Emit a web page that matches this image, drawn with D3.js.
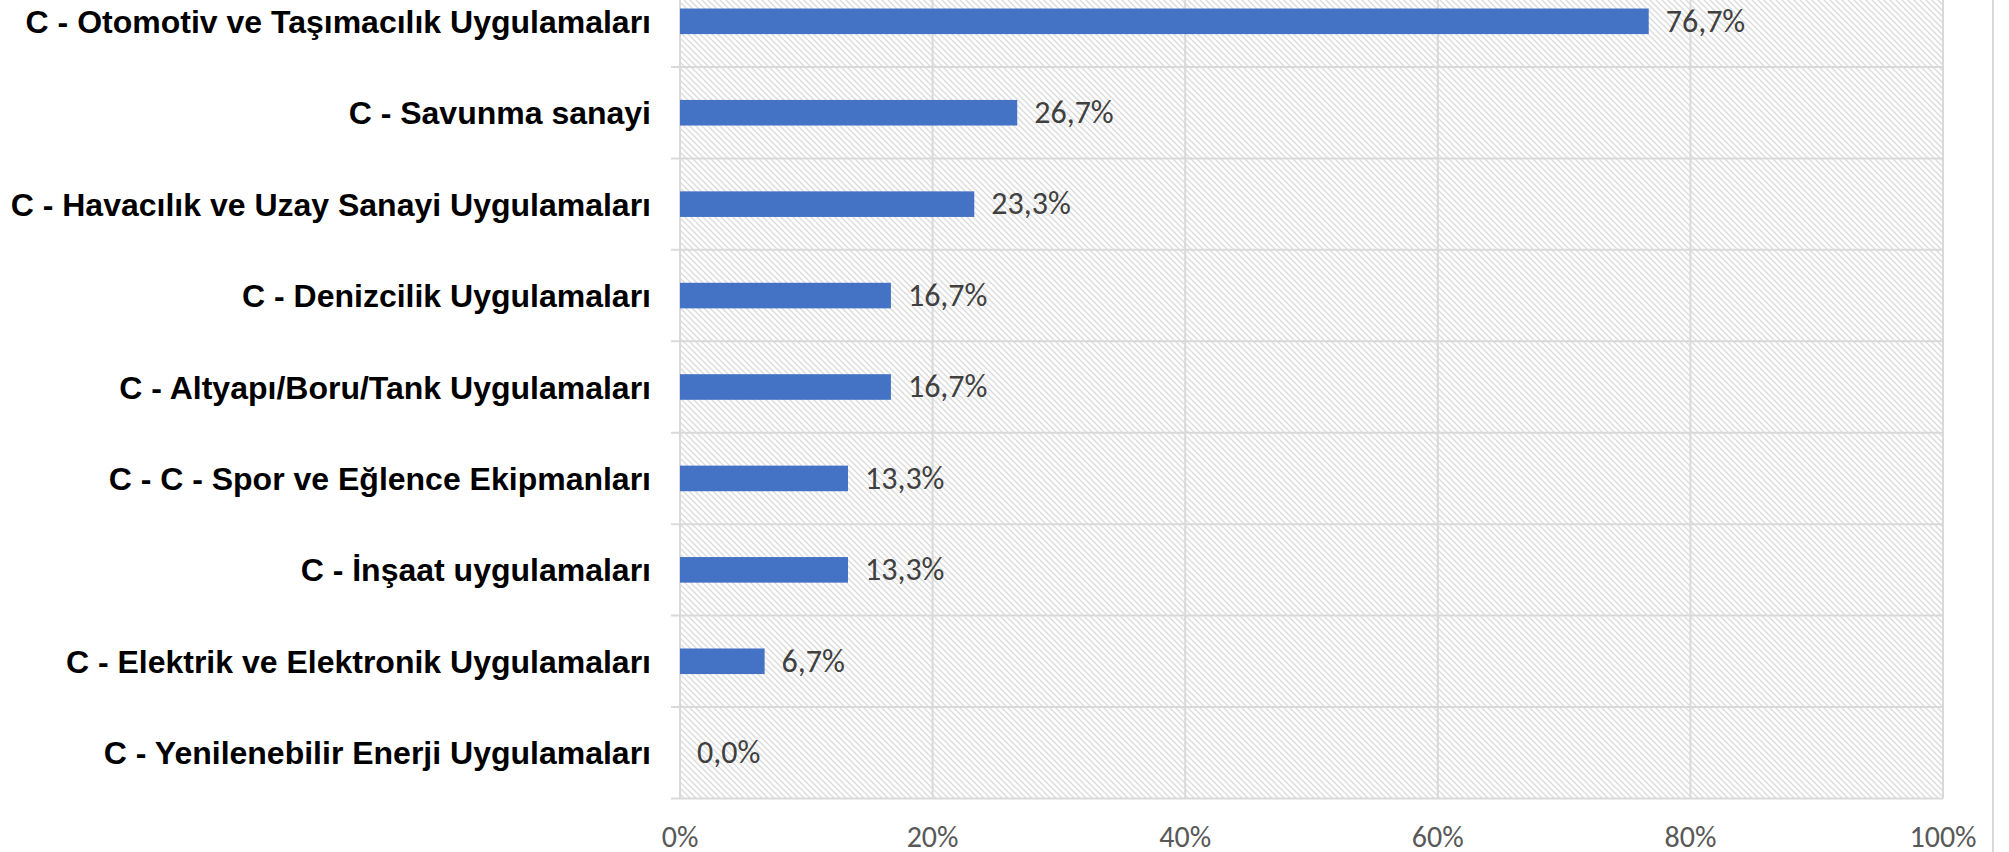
<!DOCTYPE html>
<html>
<head>
<meta charset="utf-8">
<script src="https://cdn.jsdelivr.net/npm/d3@7"></script>
<style>
  body { margin: 0; background: #fff; }
  svg { display: block; }
</style>
</head>
<body>
<div id="chart"></div>
<script>
var categories = [
  'C - Otomotiv ve Taşımacılık Uygulamaları',
  'C - Savunma sanayi',
  'C - Havacılık ve Uzay Sanayi Uygulamaları',
  'C - Denizcilik Uygulamaları',
  'C - Altyapı/Boru/Tank Uygulamaları',
  'C - C - Spor ve Eğlence Ekipmanları',
  'C - İnşaat uygulamaları',
  'C - Elektrik ve Elektronik Uygulamaları',
  'C - Yenilenebilir Enerji Uygulamaları'
];
var shares = [0.767, 0.267, 0.233, 0.167, 0.167, 0.133, 0.133, 0.067, 0.0];
var x_ticks = [0, 0.2, 0.4, 0.6, 0.8, 1.0];

var width = 2009, height = 852;
var plot_left = 680, plot_right = 1943,
    plot_top = -24.4, plot_bottom = 798.4;
var grid_color = '#d9d9d9';

var tr = d3.formatLocale({decimal: ',', thousands: '.', grouping: [3], currency: ['', '']});
var fmt_value = tr.format('.1%');
var fmt_tick = tr.format('.0%');

var svg = d3.select('#chart').append('svg')
    .attr('width', width)
    .attr('height', height);

// diagonal hatch for the plot area
var pat = svg.append('defs').append('pattern')
    .attr('id', 'hatch')
    .attr('patternUnits', 'userSpaceOnUse')
    .attr('width', 6)
    .attr('height', 6);
pat.append('rect').attr('width', 6).attr('height', 6).attr('fill', '#fff');
pat.append('path')
    .attr('d', 'M-1,-1 L7,7 M-1,5 L1,7 M5,-1 L7,1')
    .attr('stroke', '#dcdcdc')
    .attr('stroke-width', 1.4);

var x = d3.scaleLinear().domain([0, 1]).range([plot_left, plot_right]);
var y = d3.scaleBand().domain(categories)
    .range([plot_top, plot_bottom])
    .paddingInner(0.72)
    .paddingOuter(0.36);

svg.append('rect')
    .attr('x', plot_left)
    .attr('y', plot_top)
    .attr('width', plot_right - plot_left)
    .attr('height', plot_bottom - plot_top)
    .attr('fill', 'url(#hatch)');

// vertical gridlines
svg.selectAll('.vgrid').data(x_ticks).enter().append('line')
    .attr('class', 'vgrid')
    .attr('x1', function(d){ return x(d); })
    .attr('x2', function(d){ return x(d); })
    .attr('y1', plot_top)
    .attr('y2', plot_bottom)
    .attr('stroke', grid_color)
    .attr('stroke-width', 2);

// category boundaries (gridlines + ticks)
var step = y.step();
var boundaries = d3.range(categories.length + 1).map(function(i){ return plot_top + i * step; });
svg.selectAll('.hgrid').data(boundaries).enter().append('line')
    .attr('class', 'hgrid')
    .attr('x1', plot_left - 9)
    .attr('x2', plot_right)
    .attr('y1', function(d){ return d; })
    .attr('y2', function(d){ return d; })
    .attr('stroke', grid_color)
    .attr('stroke-width', 2);

// chart border on the right
svg.append('line')
    .attr('x1', 1993).attr('x2', 1993)
    .attr('y1', 0).attr('y2', height)
    .attr('stroke', grid_color)
    .attr('stroke-width', 2);

// bars
svg.selectAll('.bar').data(shares).enter().append('rect')
    .attr('class', 'bar')
    .attr('x', x(0))
    .attr('y', function(d, i){ return y(categories[i]); })
    .attr('width', function(d){ return x(d) - x(0); })
    .attr('height', y.bandwidth())
    .attr('fill', '#4472c4');

// value labels
svg.selectAll('.val').data(shares).enter().append('text')
    .attr('class', 'val')
    .attr('x', function(d){ return x(d) + 17; })
    .attr('y', function(d, i){ return y(categories[i]) + y.bandwidth() / 2; })
    .attr('dy', '0.32em')
    .style('font-family', "Calibri, Carlito, 'Open Sans', sans-serif")
    .style('font-size', '32px')
    .style('fill', '#404040')
    .text(function(d){ return fmt_value(d); });

// category labels
svg.selectAll('.cat').data(categories).enter().append('text')
    .attr('class', 'cat')
    .attr('x', 651)
    .attr('y', function(d){ return y(d) + y.bandwidth() / 2; })
    .attr('dy', '0.36em')
    .attr('text-anchor', 'end')
    .style('font-family', "Arial, 'Liberation Sans', sans-serif")
    .style('font-weight', 'bold')
    .style('font-size', '32px')
    .style('fill', '#000')
    .text(function(d){ return d; });

// x tick labels
svg.selectAll('.tick').data(x_ticks).enter().append('text')
    .attr('class', 'tick')
    .attr('x', function(d){ return x(d); })
    .attr('y', 847)
    .attr('text-anchor', 'middle')
    .style('font-family', "Calibri, Carlito, 'Open Sans', sans-serif")
    .style('font-size', '30px')
    .style('fill', '#595959')
    .text(function(d){ return fmt_tick(d); });
</script>
</body>
</html>
